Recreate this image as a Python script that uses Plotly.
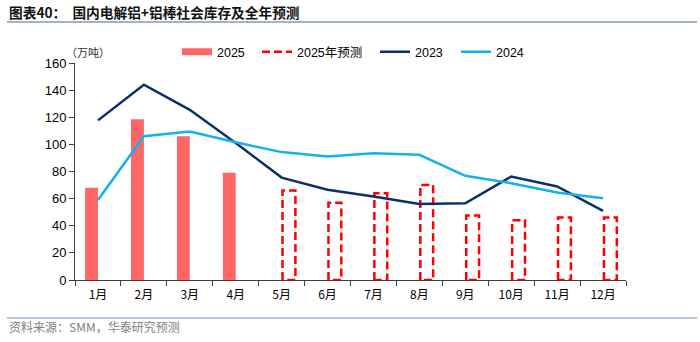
import plotly.graph_objects as go

months = ["1月", "2月", "3月", "4月", "5月", "6月", "7月", "8月", "9月", "10月", "11月", "12月"]
actual_2025 = [68, 118.5, 106, 79, None, None, None, None, None, None, None, None]
forecast_2025 = [None, None, None, None, 66, 57, 64, 70, 47.5, 44, 46, 46]
s2023 = [117.7, 144, 125.5, 101, 75.5, 66.5, 61.5, 56, 56.5, 76.3, 69, 51]
s2024 = [59, 106, 109.5, 101.5, 94.3, 91, 93.5, 92.3, 76.8, 71.4, 64.5, 60.3]
yticks = [0, 20, 40, 60, 80, 100, 120, 140, 160]

FONT = "Arial, 'Liberation Sans', 'Noto Sans CJK SC', sans-serif"
CJK = "'Noto Sans CJK SC', 'Liberation Sans', sans-serif"
idx = list(range(len(months)))
bw = 0.28
RED = "#FF6666"

fig = go.Figure()
fig.add_trace(go.Bar(x=idx, y=actual_2025, name="2025", width=bw, offset=-bw,
                     marker=dict(color=RED, line=dict(width=0)),
                     showlegend=False, legendgroup="a"))
# legend proxy for the bars (wide rectangle icon)
fig.add_trace(go.Scatter(x=[None], y=[None], mode="lines", name="2025",
                         line=dict(color=RED, width=7), legendgroup="a",
                         legend="legend"))

# dashed outline bars for forecast
fx, fy = [], []
for i, v in zip(idx, forecast_2025):
    if v is None:
        continue
    x0, x1 = i + 0.02, i + 0.02 + bw
    fx += [x0, x0, x1, x1, x0, None]
    fy += [0, v, v, 0, 0, None]
fig.add_trace(go.Scatter(x=fx, y=fy, mode="lines", name="2025年预测",
                         line=dict(color="#FF0000", width=2.5, dash="8px,4px"),
                         legend="legend2"))

fig.add_trace(go.Scatter(x=idx, y=s2023, mode="lines", name="2023",
                         line=dict(color="#0B2F6B", width=2.5), legend="legend3"))
fig.add_trace(go.Scatter(x=idx, y=s2024, mode="lines", name="2024",
                         line=dict(color="#14B1EB", width=2.5), legend="legend4"))


def px2x(px):
    return (px - 75) / 551


def leg(px):
    return dict(orientation="h", x=px2x(px), y=1.05, xanchor="left", yanchor="middle",
                font=dict(size=12.5, family=FONT, color="#000000"),
                bgcolor="rgba(0,0,0,0)")


fig.update_layout(
    width=700, height=342,
    margin=dict(l=75, r=74, t=63, b=62),
    paper_bgcolor="white", plot_bgcolor="white",
    font=dict(family=FONT, size=12, color="#000000"),
    showlegend=True,
    legend=leg(177), legend2=leg(257), legend3=leg(375), legend4=leg(456),
    xaxis=dict(range=[-0.5, 11.5], tickmode="array", tickvals=idx, ticktext=months,
               ticks="", showgrid=False, zeroline=False, showline=True,
               linecolor="#404040", linewidth=1, ticklabelstandoff=4,
               tickfont=dict(size=12, family=CJK),
               minor=dict(tickmode="linear", tick0=-0.5, dtick=1, ticks="outside",
                          ticklen=5, tickcolor="#404040", showgrid=False)),
    yaxis=dict(range=[0, 160], tickmode="array", tickvals=yticks,
               ticks="outside", ticklen=5, tickcolor="#404040",
               showgrid=False, zeroline=False, showline=True,
               linecolor="#404040", linewidth=1,
               tickfont=dict(size=13, family=FONT)),
    shapes=[
        dict(type="line", xref="paper", yref="paper", x0=-0.1234, x1=1.129,
             y0=1.189, y1=1.189, line=dict(color="#9FB3CC", width=2)),
        dict(type="line", xref="paper", yref="paper", x0=-0.1234, x1=1.129,
             y0=-0.175, y1=-0.175, line=dict(color="#9FB3CC", width=1.5)),
    ],
    annotations=[
        dict(text="<b>图表40：  国内电解铝+铝棒社会库存及全年预测</b>", xref="paper", yref="paper",
             x=-0.1234, y=1.235, xanchor="left", yanchor="middle", showarrow=False,
             font=dict(size=13.7, family=CJK, color="#111111")),
        dict(text="（万吨）", xref="paper", yref="paper", x=0.024, y=1.05,
             xanchor="center", yanchor="middle", showarrow=False,
             font=dict(size=11, family=CJK, color="#333333")),
        dict(text="资料来源：SMM，华泰研究预测", xref="paper", yref="paper",
             x=-0.1234, y=-0.212, xanchor="left", yanchor="middle", showarrow=False,
             font=dict(size=12, family=CJK, color="#7F7F7F")),
    ],
)

fig.write_html("out.html")
